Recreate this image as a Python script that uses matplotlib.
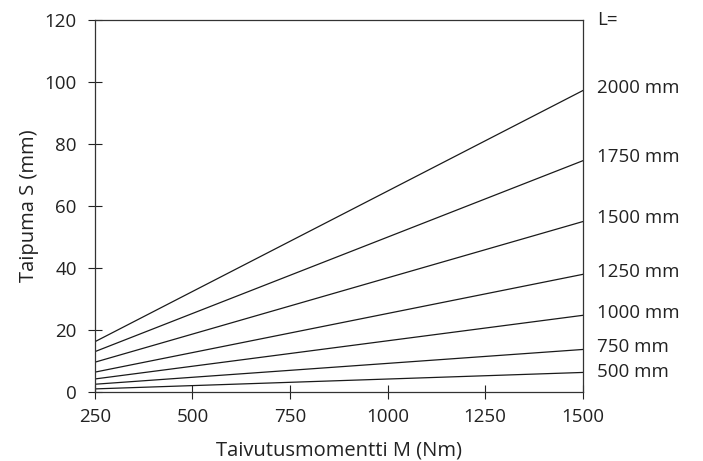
import matplotlib
matplotlib.use('Agg')
import matplotlib.pyplot as plt

plt.rcParams['font.family'] = ['Open Sans', 'DejaVu Sans']

moment = [250, 1500]
lengths = ['2000 mm', '1750 mm', '1500 mm', '1250 mm', '1000 mm', '750 mm', '500 mm']
deflection = [
    [16.3, 97.2],
    [13.1, 74.6],
    [9.7, 55.0],
    [6.5, 38.0],
    [4.3, 24.8],
    [2.6, 13.8],
    [1.1, 6.4],
]
label_y = [98.0, 75.9, 56.2, 38.8, 25.6, 14.6, 6.5]

fig = plt.figure(figsize=(7.03, 4.61), dpi=100)
ax = fig.add_axes([0.135, 0.149, 0.694, 0.808])

for s in deflection:
    ax.plot(moment, s, color='#1a1a1a', lw=0.9)

ax.set_xlim(250, 1500)
ax.set_ylim(0, 120)
ax.set_xticks([250, 500, 750, 1000, 1250, 1500])
ax.set_yticks([0, 20, 40, 60, 80, 100, 120])
ax.tick_params(direction='inout', length=10, width=0.8, labelsize=13.5, colors='#222222')
ax.tick_params(axis='y', pad=8)
ax.tick_params(axis='x', pad=6)
for sp in ax.spines.values():
    sp.set_linewidth(0.9)
    sp.set_color('#333333')

ax.set_xlabel('Taivutusmomentti M (Nm)', fontsize=14.5, labelpad=11, color='#222222')
ax.set_ylabel('Taipuma S (mm)', fontsize=14.5, labelpad=4, color='#222222')

ax.text(1.03, 120, 'L=', transform=ax.get_yaxis_transform(), fontsize=13.5, va='center', ha='left', color='#222222')
for lab, y in zip(lengths, label_y):
    ax.text(1.03, y, lab, transform=ax.get_yaxis_transform(), fontsize=13.5, va='center', ha='left', color='#222222')

fig.savefig('out.png', dpi=100)
